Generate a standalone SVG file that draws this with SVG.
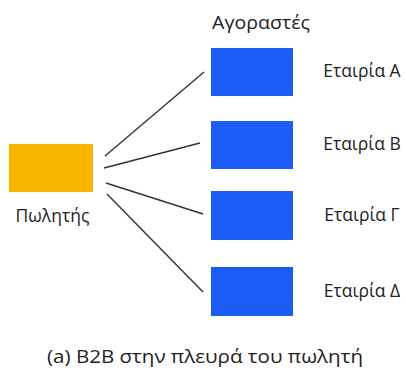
<svg xmlns="http://www.w3.org/2000/svg" width="406" height="370" viewBox="0 0 406 370">
  <style>
    .lbl { font-family: "Open Sans", "Noto Sans", "DejaVu Sans", sans-serif; font-size: 17.5px; fill: #222; }
    .head { font-size: 18px; }
    .caption { font-size: 18px; }
    .buyer { fill: #1a5cf5; }
    .seller { fill: #f8b500; }
    .link { stroke: #333; stroke-width: 1.4; fill: none; }
  </style>
  <rect width="406" height="370" fill="#ffffff"/>

  <text class="lbl head" x="212" y="29" textLength="98" lengthAdjust="spacingAndGlyphs">Αγοραστές</text>

  <g id="connectors">
    <line class="link" x1="105" y1="156" x2="204" y2="72"/>
    <line class="link" x1="104" y1="168" x2="200" y2="143"/>
    <line class="link" x1="106" y1="183" x2="203" y2="214"/>
    <line class="link" x1="107" y1="194" x2="203" y2="292"/>
  </g>

  <g id="seller">
    <rect class="seller" x="9" y="144" width="84" height="48"/>
    <text class="lbl" x="52.5" y="222" text-anchor="middle">Πωλητής</text>
  </g>

  <g id="company-a">
    <rect class="buyer" x="211" y="48" width="82" height="48"/>
    <text class="lbl" x="362" y="77" text-anchor="middle">Εταιρία Α</text>
  </g>
  <g id="company-b">
    <rect class="buyer" x="211" y="121" width="82" height="48"/>
    <text class="lbl" x="362" y="150" text-anchor="middle">Εταιρία Β</text>
  </g>
  <g id="company-g">
    <rect class="buyer" x="211" y="191" width="82" height="49"/>
    <text class="lbl" x="362" y="221" text-anchor="middle">Εταιρία Γ</text>
  </g>
  <g id="company-d">
    <rect class="buyer" x="211" y="267" width="82" height="49"/>
    <text class="lbl" x="362" y="297" text-anchor="middle">Εταιρία Δ</text>
  </g>

  <text class="lbl caption" x="47" y="363" textLength="316" lengthAdjust="spacingAndGlyphs">(a) B2B στην πλευρά του πωλητή</text>
</svg>
